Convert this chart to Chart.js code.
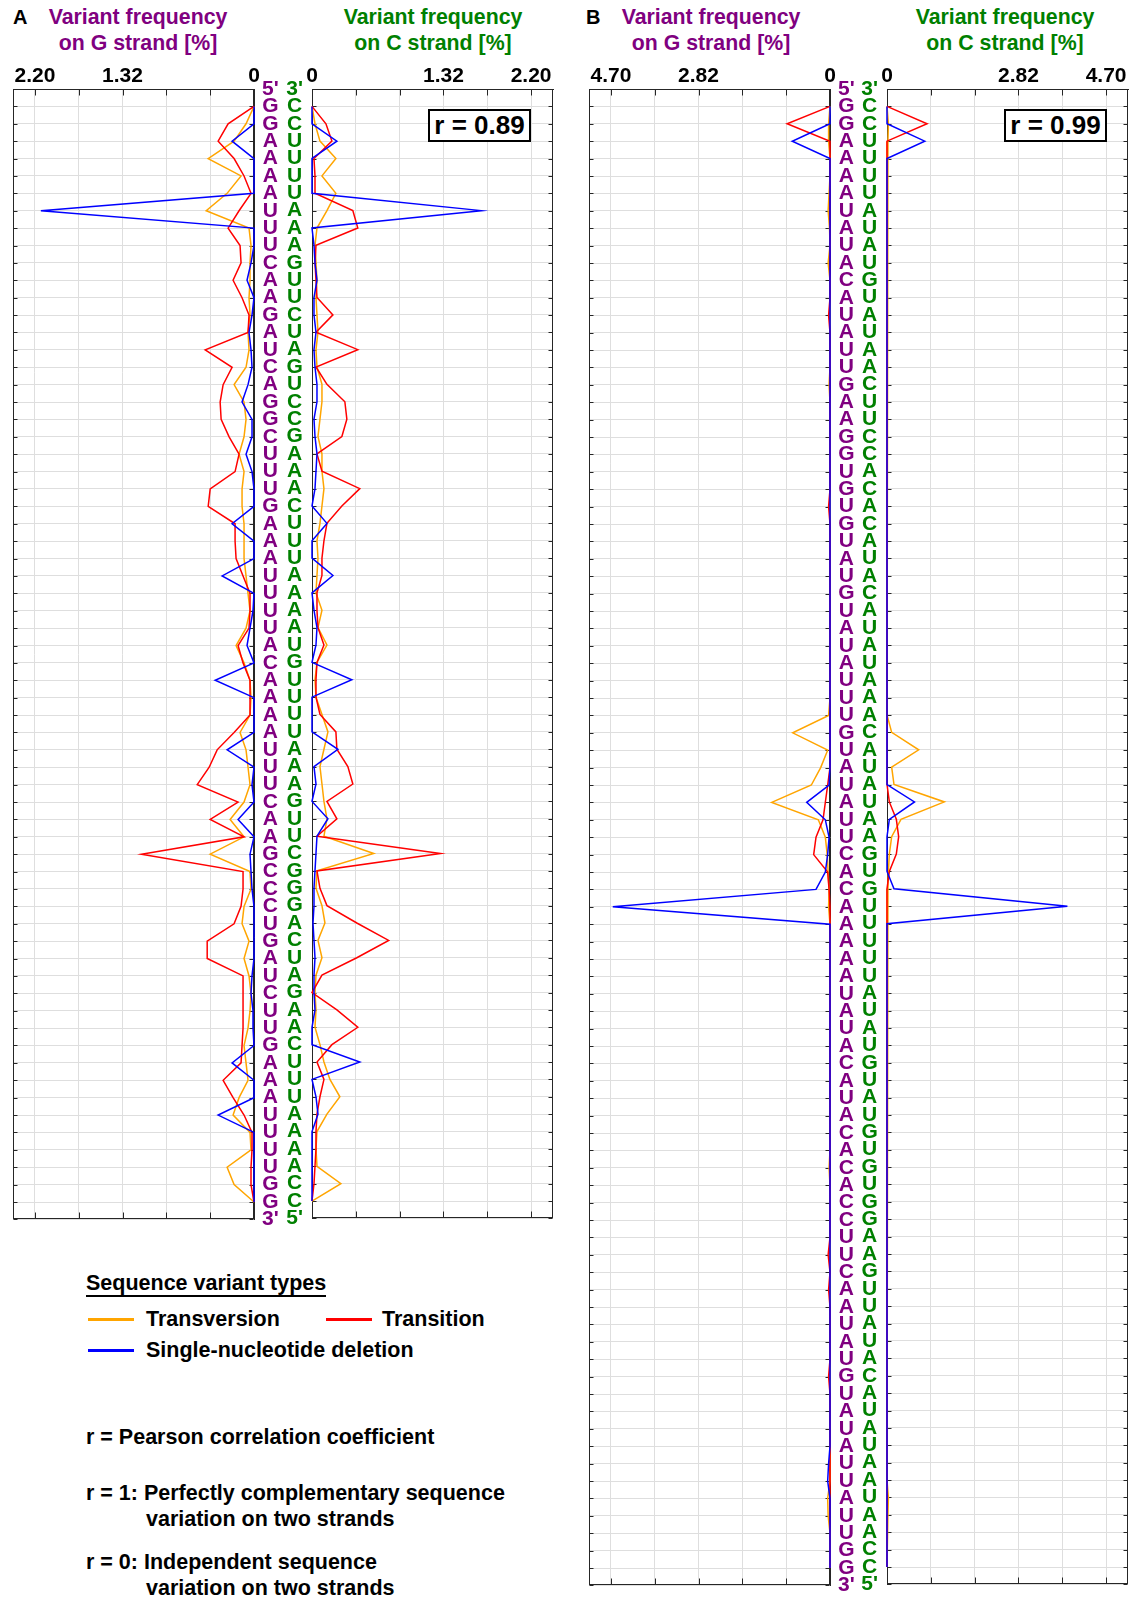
<!DOCTYPE html>
<html>
<head>
<meta charset="utf-8">
<script src="https://cdn.jsdelivr.net/npm/chart.js@4.4.1/dist/chart.umd.min.js"></script>
<style>
  html, body { margin: 0; padding: 0; background: #fff; }
  body { width: 1135px; height: 1606px; position: relative; overflow: hidden;
         font-family: "Liberation Sans", Arial, sans-serif; font-weight: bold; color: #000; }
  canvas { position: absolute; }
  .txt { position: absolute; white-space: nowrap; line-height: 24px; }
  .title { position: absolute; text-align: center; font-size: 21.3px; line-height: 26px; width: 260px; }
  .purple { color: #800080; }
  .green { color: #008000; }
  .panel { position: absolute; font-size: 20px; line-height: 24px; }
  .rbox { position: absolute; border: 2px solid #000; background: #fff; font-size: 26px;
          text-align: center; line-height: 29px; box-sizing: border-box; }
  .swatch { position: absolute; height: 3px; width: 46px; }
  .legend { font-size: 21.5px; }
</style>
</head>
<body>

<div class="panel" style="left:13px; top:5px;">A</div>
<div class="title purple" style="left:8px; top:4px;">Variant frequency<br>on G strand [%]</div>
<div class="title green" style="left:303px; top:4px;">Variant frequency<br>on C strand [%]</div>

<div class="panel" style="left:586px; top:5px;">B</div>
<div class="title purple" style="left:581px; top:4px;">Variant frequency<br>on G strand [%]</div>
<div class="title green" style="left:875px; top:4px;">Variant frequency<br>on C strand [%]</div>

<canvas id="aG" width="288" height="1240" style="left:0px; top:0px; width:288px; height:1240px;"></canvas>
<canvas id="aC" width="288" height="1240" style="left:278px; top:0px; width:288px; height:1240px;"></canvas>
<canvas id="bG" width="289" height="1606" style="left:575px; top:0px; width:289px; height:1606px;"></canvas>
<canvas id="bC" width="289" height="1606" style="left:853px; top:0px; width:289px; height:1606px;"></canvas>

<div class="rbox" style="left:428px; top:109px; width:103px; height:33px;">r = 0.89</div>
<div class="rbox" style="left:1004px; top:109px; width:103px; height:33px;">r = 0.99</div>

<div class="txt legend" style="left:86px; top:1272px; line-height:22px; border-bottom:2px solid #000; padding-bottom:1px;">Sequence variant types</div>
<div class="swatch" style="left:88px; top:1318px; background:#FFA500;"></div>
<div class="txt legend" style="left:146px; top:1307px;">Transversion</div>
<div class="swatch" style="left:326px; top:1318px; background:#FF0000;"></div>
<div class="txt legend" style="left:382px; top:1307px;">Transition</div>
<div class="swatch" style="left:88px; top:1349px; background:#0000FF;"></div>
<div class="txt legend" style="left:146px; top:1338px;">Single-nucleotide deletion</div>

<div class="txt legend" style="left:86px; top:1425px;">r = Pearson correlation coefficient</div>
<div class="txt legend" style="left:86px; top:1481px;">r = 1: Perfectly complementary sequence</div>
<div class="txt legend" style="left:146px; top:1507px;">variation on two strands</div>
<div class="txt legend" style="left:86px; top:1550px;">r = 0: Independent sequence</div>
<div class="txt legend" style="left:146px; top:1576px;">variation on two strands</div>

<script>
// ---------------- Sequences (one letter per position, top to bottom) ----------------
const seqG_A = 'GGAAAAUUUCAAGAUCAGGCUUUGAAAUUUUACAAAAUUUCAAGCCCUGAUCUUGAAAUUUUGG'.split('');
const seqC_A = 'CCUUUUAAAGUUCUAGUCCGAAACUUUAAAAUGUUUUAAAGUUCGGGACUAGAACUUUAAAACC'.split('');
const seqG_B = ('GGAAAAUAUACAUAUUGAAGGUGUGUAU' +
                'GUAUAUUUGUAUAUUCACAAAAAUAUA' +
                'CAUACACACCUUCAAUAUGUAUAUUAUUGG').split('');
const seqC_B = ('CCUUUUAUAUGUAUAACUUCCACACAUA' +
                'CAUAUAAACAUAUAAGUGUUUUUAUAU' +
                'GUAUGUGUGGAAGUUAUACAUAUAAUAACC').split('');

// ---------------- Axis tick labels ----------------
const ticksA = [0, 0.44, 0.88, 1.32, 1.76, 2.20];
const labelledA = [0, 1.32, 2.20];
const ticksB = [0, 0.94, 1.88, 2.82, 3.76, 4.70];
const labelledB = [0, 2.82, 4.70];

// ---------------- Panel A: variant frequency [%] per position ----------------
const aG_transversion = [0,0.08,0.2,0.46,0.13,0.27,0.48,0.05,0.03,0.04,
  0.04,0.05,0.04,0.06,0.05,0.08,0.2,0.1,0.08,0.1,
  0.15,0.1,0.12,0.12,0.1,0.1,0.1,0.08,0.06,0.04,
  0.08,0.18,0.1,0.04,0.03,0.04,0.14,0.08,0.06,0.04,
  0.1,0.24,0.1,0.44,0.04,0.03,0.1,0.12,0.05,0.1,
  0.05,0.03,0.04,0.06,0.1,0.08,0.06,0.15,0.21,0.04,
  0.03,0.27,0.2,0];
const aG_transition = [0,0.26,0.36,0.2,0.1,0.03,0.15,0.26,0.14,0.13,
  0.21,0.12,0.05,0.06,0.49,0.22,0.31,0.34,0.33,0.25,
  0.15,0.19,0.44,0.46,0.19,0.19,0.18,0.11,0.04,0.04,
  0.05,0.16,0.11,0.04,0.04,0.04,0.2,0.37,0.45,0.57,
  0.16,0.44,0.1,1.13,0.11,0.11,0.13,0.2,0.47,0.47,
  0.11,0.11,0.11,0.11,0.12,0.13,0.31,0.21,0.1,0.02,
  0.02,0.03,0.03,0];
const aG_deletion = [0,0,0.22,0,0,0,2.14,0,0,0.03,
  0.07,0,0.02,0.05,0.03,0.02,0.06,0.12,0.02,0.02,
  0.08,0.02,0,0,0.22,0,0,0.32,0,0.01,
  0.04,0.07,0,0.39,0,0,0,0.27,0,0.02,
  0,0.16,0,0.04,0.03,0.02,0,0,0,0,
  0.02,0.03,0.01,0.01,0,0.22,0,0,0.36,0,
  0,0,0,0];
const aC_transversion = [0,0.03,0.08,0.24,0.1,0.24,0.15,0.05,0.03,0.04,
  0.05,0.04,0.05,0.06,0.04,0.05,0.1,0.1,0.08,0.06,
  0.1,0.1,0.12,0.1,0.08,0.05,0.06,0.05,0.04,0.1,
  0.06,0.15,0.05,0.03,0.04,0.1,0.16,0.12,0.08,0.1,
  0.12,0.15,0.12,0.62,0.05,0.04,0.1,0.13,0.06,0.1,
  0.04,0.03,0.04,0.03,0.08,0.12,0.18,0.28,0.15,0.05,
  0.04,0.05,0.29,0];
const aC_transition = [0,0.14,0.2,0.02,0.03,0.03,0.41,0.46,0.04,0.03,
  0.04,0.05,0.21,0.04,0.46,0.04,0.15,0.33,0.35,0.3,
  0.05,0.1,0.48,0.3,0.15,0.12,0.1,0.1,0.05,0.05,
  0.06,0.12,0.05,0.04,0.04,0.08,0.24,0.25,0.36,0.41,
  0.15,0.25,0.05,1.29,0.05,0.08,0.15,0.45,0.77,0.45,
  0.1,0,0.25,0.46,0.2,0.05,0.12,0.08,0.05,0.04,
  0.04,0.03,0.02,0];
const aC_deletion = [0,0,0.25,0,0,0,1.7,0,0.02,0.03,
  0.05,0.02,0.02,0.04,0.02,0.03,0.05,0.05,0.02,0.03,
  0.05,0.04,0.03,0,0.15,0,0,0.21,0,0.02,
  0.05,0.04,0,0.4,0,0,0,0.26,0.02,0.04,
  0,0.16,0.05,0.04,0.03,0.02,0.02,0.01,0.02,0.03,
  0.02,0.02,0.03,0,0,0.48,0,0.04,0.06,0,
  0,0,0,0];

// ---------------- Panel B: variant frequency [%] per position ----------------
const bG_transversion = [0,0.03,0.03,0,0,0.02,0.04,0.01,0,0.04,
  0,0,0,0,0,0,0.02,0,0,0,
  0,0,0,0,0,0,0,0,0,0,
  0,0,0,0,0,0.03,0.8,0.05,0.2,0.4,
  1.25,0.25,0.1,0.06,0.04,0.02,0.03,0,0,0,
  0,0,0,0,0,0,0,0,0,0,
  0,0.02,0,0,0,0,0,0,0,0,
  0,0,0,0,0,0,0,0,0,0,
  0.05,0.04,0,0,0];
const bG_transition = [0,0.92,0,0,0,0,0,0,0,0,
  0,0,0.03,0,0,0,0,0,0,0,
  0,0,0,0.03,0,0,0,0,0,0,
  0,0,0,0,0,0,0,0,0,0.05,
  0.1,0.15,0.3,0.35,0.05,0.02,0,0,0,0,
  0,0,0,0,0,0,0,0,0,0,
  0,0,0,0,0,0,0.04,0,0.03,0,
  0,0,0,0.03,0,0,0,0,0,0,
  0,0,0,0,0];
const bG_deletion = [0,0,0.81,0,0,0,0,0,0,0,
  0,0,0,0,0,0,0,0,0,0,
  0,0,0,0,0,0,0,0,0,0,
  0,0,0,0,0,0,0,0,0,0.02,
  0.5,0.1,0.02,0.05,0.1,0.3,4.66,0,0,0,
  0,0,0,0,0,0,0,0,0,0,
  0,0,0,0,0,0,0,0,0,0,
  0,0,0,0,0,0,0,0,0.03,0.05,
  0,0,0,0,0];
const bC_transversion = [0,0.03,0.02,0,0,0,0,0,0,0,
  0,0,0,0,0,0,0,0,0,0,
  0,0,0,0,0,0,0,0,0,0,
  0,0,0,0,0,0.02,0.1,0.68,0.1,0.15,
  1.23,0.3,0.1,0.05,0.03,0.02,0,0,0,0,
  0,0,0,0,0,0,0,0,0,0,
  0,0,0,0,0,0,0,0,0,0,
  0,0,0,0,0,0,0,0,0,0,
  0.03,0.02,0,0,0];
const bC_transition = [0,0.86,0,0,0,0,0,0,0,0,
  0,0,0,0,0,0,0,0,0,0,
  0,0,0,0,0,0,0,0,0,0,
  0,0,0,0,0,0,0,0,0,0.02,
  0.05,0.2,0.25,0.2,0.05,0,0,0,0,0,
  0,0,0,0,0,0,0,0,0,0,
  0,0,0,0,0,0,0,0,0,0,
  0,0,0,0,0,0,0,0,0,0,
  0,0,0,0,0];
const bC_deletion = [0,0,0.81,0,0,0,0,0,0,0,
  0,0,0,0,0,0,0,0,0,0,
  0,0,0,0,0,0,0,0,0,0,
  0,0,0,0,0,0,0,0,0,0,
  0.59,0.05,0,0,0,0.15,3.87,0,0,0,
  0,0,0,0,0,0,0,0,0,0,
  0,0,0,0,0,0,0,0,0,0,
  0,0,0,0,0,0,0,0,0,0,
  0,0,0,0,0];

// ---------------- Drawing ----------------
const FONT = '"Liberation Sans", Arial, sans-serif';
Chart.defaults.font.family = FONT;
const COL_TV = '#FFA500', COL_TS = '#FF0000', COL_DEL = '#0000FF';
const GRID = '#dedede', AXIS = '#262626';

// Box outline plus inward tick marks on all four sides
const framePlugin = {
  id: 'frame',
  beforeDatasetsDraw(chart) {
    const { ctx, chartArea: a, scales: { x, y } } = chart;
    const L = Math.round(a.left) + 0.5, R = Math.round(a.right) - 0.5;
    const T = Math.round(a.top) + 0.5, B = Math.round(a.bottom) - 0.5;
    ctx.save();
    ctx.strokeStyle = AXIS;
    ctx.lineWidth = 1;
    ctx.strokeRect(L, T, R - L, B - T);
    ctx.beginPath();
    x.ticks.forEach(t => {
      const px = Math.round(x.getPixelForValue(t.value)) + 0.5;
      ctx.moveTo(px, T); ctx.lineTo(px, T + 6);
      ctx.moveTo(px, B); ctx.lineTo(px, B - 6);
    });
    y.ticks.forEach(t => {
      const py = Math.round(y.getPixelForValue(t.value)) + 0.5;
      ctx.moveTo(L, py); ctx.lineTo(L + 4, py);
      ctx.moveTo(R, py); ctx.lineTo(R - 4, py);
    });
    ctx.stroke();
    ctx.restore();
  }
};

function series(values, color, order) {
  return {
    data: values.map((v, i) => ({ x: v, y: i })),
    borderColor: color, backgroundColor: color,
    borderWidth: 1.5, pointRadius: 0, pointHoverRadius: 0,
    showLine: true, fill: false, tension: 0, clip: false, order
  };
}

function strandChart(id, cfg) {
  const n = cfg.seq.length;
  const isG = cfg.side === 'G';
  const step = cfg.ticks[1];
  const xMax = cfg.ticks[cfg.ticks.length - 1] * 1.1;
  const shown = cfg.labelled.map(v => Math.round(v * 100));
  return new Chart(document.getElementById(id), {
    type: 'scatter',
    data: {
      datasets: [
        series(cfg.tv, COL_TV, 3),
        series(cfg.ts, COL_TS, 2),
        series(cfg.del, COL_DEL, 1)
      ]
    },
    options: {
      responsive: false, animation: false, devicePixelRatio: 1, events: [],
      layout: { padding: cfg.padding },
      plugins: { legend: { display: false }, tooltip: { enabled: false } },
      scales: {
        x: {
          type: 'linear', position: 'top', min: 0, max: xMax, reverse: isG,
          afterFit: s => { s.height = 89; },
          ticks: {
            stepSize: step, autoSkip: false, includeBounds: false, maxRotation: 0, padding: 0,
            color: '#000', font: { size: 21, weight: 'bold' },
            callback: v => {
              const k = Math.round(v * 100);
              if (!shown.includes(k)) return '';
              return k === 0 ? '0' : (k / 100).toFixed(2);
            }
          },
          grid: { color: GRID, lineWidth: 1, drawTicks: false },
          border: { display: true, color: AXIS, width: 1 }
        },
        y: {
          type: 'linear', position: isG ? 'right' : 'left', min: -1, max: n, reverse: true,
          afterFit: s => { s.width = 34; },
          ticks: {
            stepSize: 1, autoSkip: false, crossAlign: 'center', padding: isG ? 8 : 9,
            color: isG ? '#800080' : '#008000', font: { size: 21, weight: 'bold' },
            callback: v => {
              const i = Math.round(v);
              if (i === -1) return isG ? "5'" : "3'";
              if (i === n) return isG ? "3'" : "5'";
              return cfg.seq[i] || '';
            }
          },
          grid: { color: GRID, lineWidth: 1, drawTicks: false },
          border: { display: true, color: AXIS, width: 1 }
        }
      }
    },
    plugins: [framePlugin]
  });
}

strandChart('aG', { side: 'G', seq: seqG_A, ticks: ticksA, labelled: labelledA,
  tv: aG_transversion, ts: aG_transition, del: aG_deletion,
  padding: { left: 13, right: 0, top: 0, bottom: 15 } });
strandChart('aC', { side: 'C', seq: seqC_A, ticks: ticksA, labelled: labelledA,
  tv: aC_transversion, ts: aC_transition, del: aC_deletion,
  padding: { left: 0, right: 13, top: 0, bottom: 15 } });
strandChart('bG', { side: 'G', seq: seqG_B, ticks: ticksB, labelled: labelledB,
  tv: bG_transversion, ts: bG_transition, del: bG_deletion,
  padding: { left: 14, right: 0, top: 0, bottom: 11 } });
strandChart('bC', { side: 'C', seq: seqC_B, ticks: ticksB, labelled: labelledB,
  tv: bC_transversion, ts: bC_transition, del: bC_deletion,
  padding: { left: 0, right: 14, top: 0, bottom: 11 } });
</script>
</body>
</html>
